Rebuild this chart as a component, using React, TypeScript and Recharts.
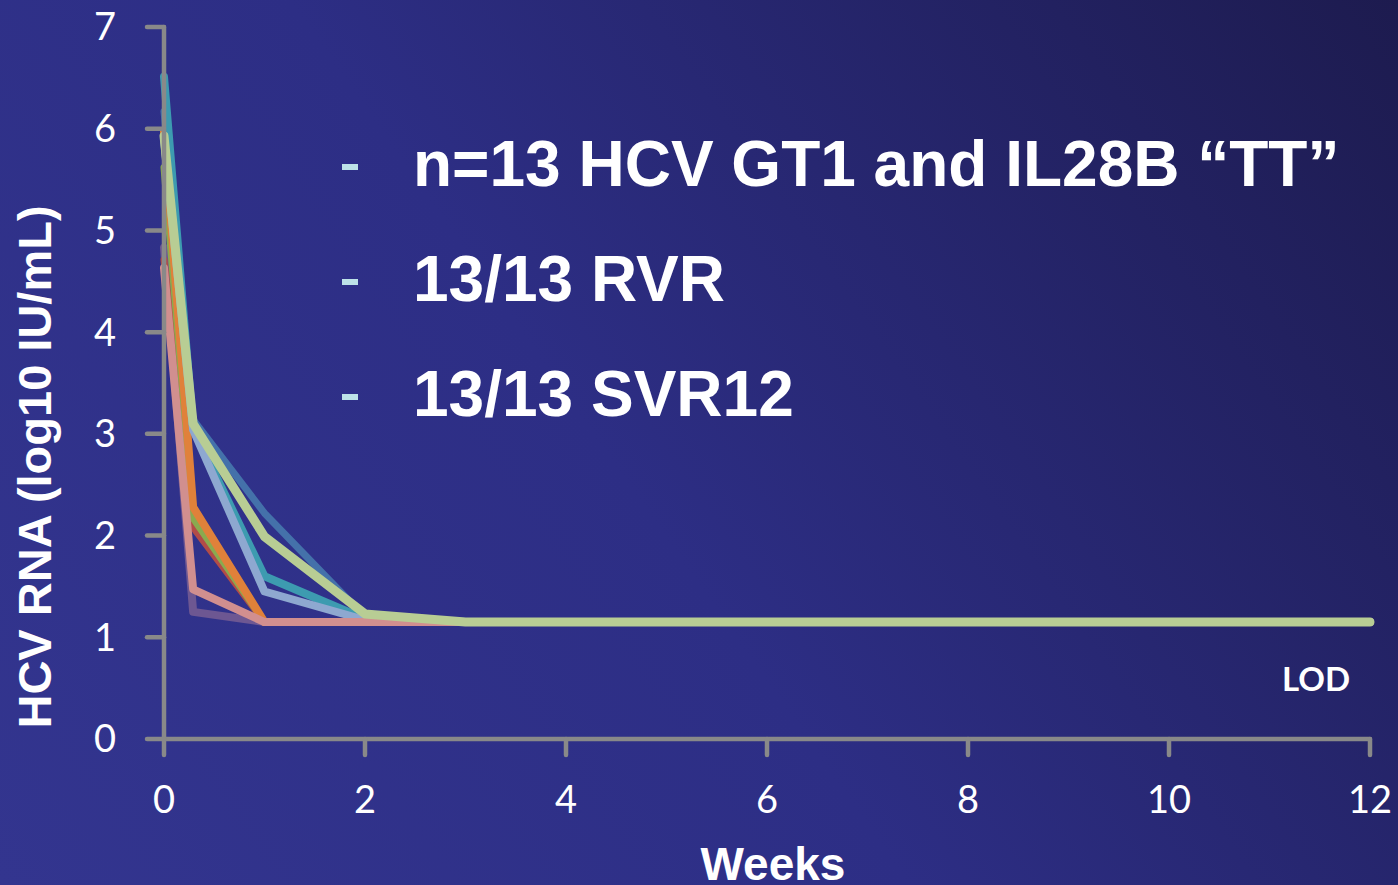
import { LineChart, Line, XAxis, YAxis } from 'recharts';

// weeks on treatment (day 2 = 2/7 week)
const weeks = [0, 0.29, 1, 2, 3, 12];

// HCV RNA, log10 IU/mL, per patient (LOD ~1.15)
const steelBlue = [6.17, 3.14, 2.22, 1.2, 1.15, 1.15];
const purple = [4.83, 1.25, 1.15, 1.15, 1.15, 1.15];
const red = [4.71, 2.08, 1.15, 1.15, 1.15, 1.15];
const olive = [5.62, 2.17, 1.15, 1.15, 1.15, 1.15];
const orange = [5.97, 2.28, 1.15, 1.15, 1.15, 1.15];
const teal = [6.51, 3.05, 1.6, 1.18, 1.15, 1.15];
const lightBlue = [5.9, 3.04, 1.45, 1.17, 1.15, 1.15];
const pink = [4.63, 1.47, 1.15, 1.15, 1.15, 1.15];
const paleGreen = [5.93, 3.1, 1.99, 1.23, 1.15, 1.15];

const xTicks = [0, 2, 4, 6, 8, 10, 12];
const yTicks = [0, 1, 2, 3, 4, 5, 6, 7];

const bullets = ['n=13 HCV GT1 and IL28B \u201CTT\u201D', '13/13 RVR', '13/13 SVR12'];

const series = [
  { key: 'steelBlue', values: steelBlue, color: '#4471aa', width: 7 },
  { key: 'purple', values: purple, color: '#6d5792', width: 8 },
  { key: 'red', values: red, color: '#b24c47', width: 7 },
  { key: 'olive', values: olive, color: '#8aaa4f', width: 7 },
  { key: 'orange', values: orange, color: '#e0813a', width: 8 },
  { key: 'teal', values: teal, color: '#3d9bb0', width: 8 },
  { key: 'lightBlue', values: lightBlue, color: '#8ea8d0', width: 8 },
  { key: 'pink', values: pink, color: '#d18f8f', width: 8 },
  { key: 'paleGreen', values: paleGreen, color: '#b8cd94', width: 9 },
];

const data = weeks.map((w, i) => {
  const row: any = { week: w };
  series.forEach((s) => { row[s.key] = s.values[i]; });
  return row;
});

const axisColor = '#898989';
const tickStyle = { fill: '#ffffff', fontSize: 38, fontFamily: 'Lato, sans-serif' };
const axisLineStyle = { stroke: axisColor, strokeWidth: 4 };

export default function App() {
  return (
    <div style={{ position: 'absolute', left: 0, top: 0, width: 1398, height: 885, overflow: 'hidden',
      background: 'linear-gradient(55deg, #33358f 0%, #2d2e85 45%, #1d1b4f 100%)' }}>
      <style>{`
        .recharts-cartesian-axis-line, .recharts-cartesian-axis-tick-line {
          stroke: ${axisColor}; stroke-width: 4.5px; stroke-linecap: round;
        }
      `}</style>
      <LineChart width={1398} height={885} data={data} margin={{ top: 27, right: 28, left: 94, bottom: 46 }}>
        <XAxis type="number" dataKey="week" domain={[0, 12]} ticks={xTicks} height={100}
          tickSize={16} tickMargin={31} tick={tickStyle}
          axisLine={axisLineStyle} tickLine={axisLineStyle} />
        <YAxis type="number" domain={[0, 7]} ticks={yTicks} width={70}
          tickSize={17} tickMargin={31} tick={tickStyle}
          axisLine={axisLineStyle} tickLine={axisLineStyle} />
        {series.map((s) => (
          <Line key={s.key} type="linear" dataKey={s.key} stroke={s.color} strokeWidth={s.width}
            strokeLinejoin="round" strokeLinecap="round" dot={false} activeDot={false} isAnimationActive={false} />
        ))}
      </LineChart>
      <svg width={1398} height={885} style={{ position: 'absolute', left: 0, top: 0, pointerEvents: 'none' }}>
        <text transform="translate(51,467) rotate(-90)" textAnchor="middle" fill="#fff"
          fontFamily="Liberation Sans, Arial, sans-serif" fontWeight="bold" fontSize={47}>
          HCV RNA (log10 IU/mL)
        </text>
        <text x={773} y={880} textAnchor="middle" fill="#fff"
          fontFamily="Liberation Sans, Arial, sans-serif" fontWeight="bold" fontSize={46}>
          Weeks
        </text>
        <text x={1316} y={691} textAnchor="middle" fill="#fff"
          fontFamily="Lato, sans-serif" fontWeight="bold" fontSize={33}>
          LOD
        </text>
        {bullets.map((b, i) => (
          <g key={b}>
            <rect x={342} y={164 + i * 115} width={16} height={6} fill="#bde2e8" />
            <text x={413} y={186 + i * 115} fill="#fff"
              fontFamily="Liberation Sans, Arial, sans-serif" fontWeight="bold" fontSize={64}>
              {b}
            </text>
          </g>
        ))}
      </svg>
    </div>
  );
}
